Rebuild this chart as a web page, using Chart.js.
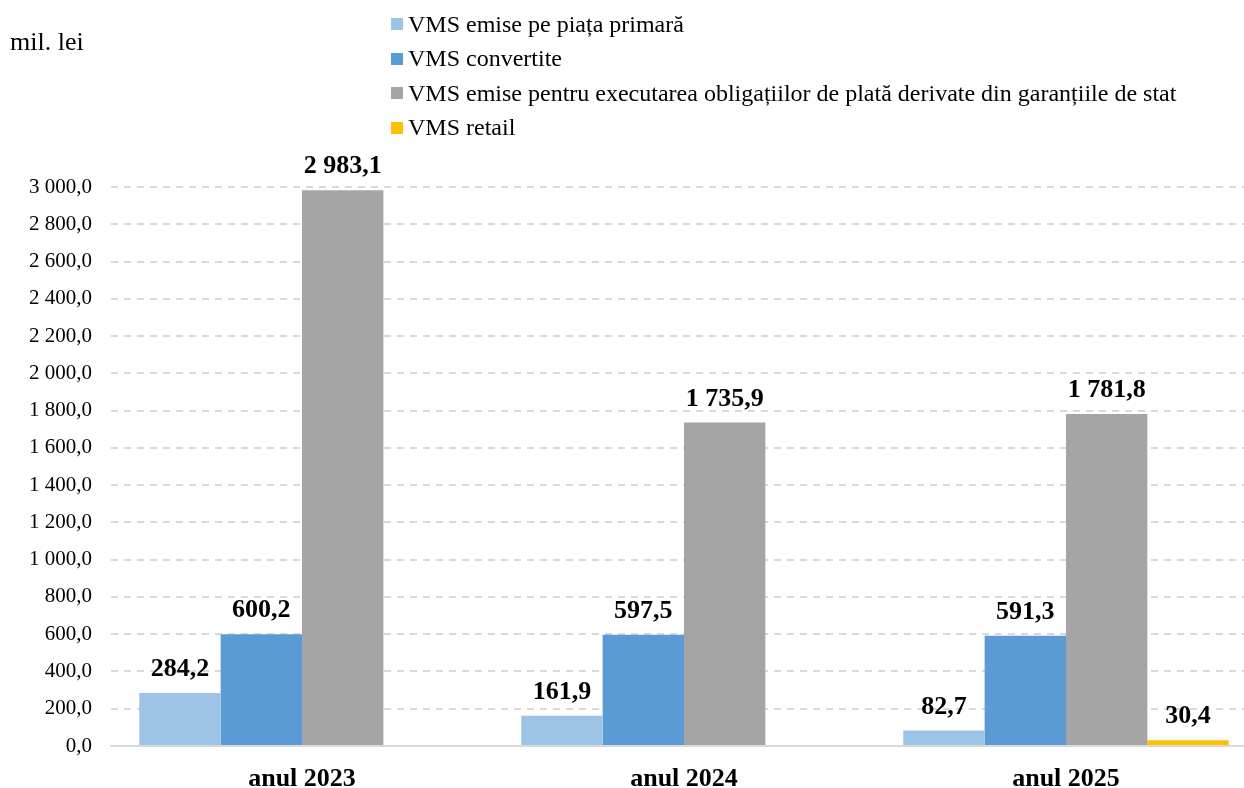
<!DOCTYPE html>
<html>
<head>
<meta charset="utf-8">
<script src="https://cdn.jsdelivr.net/npm/chart.js@4.4.1/dist/chart.umd.min.js"></script>
<style>
  html, body { margin:0; padding:0; width:1244px; height:788px; overflow:hidden; background:#fff; }
  #wrap { position:absolute; left:0; top:0; width:1257px; height:788px; }
  #legend { position:absolute; left:391px; top:7px; font-family:"Liberation Serif","Times New Roman",serif; font-size:24px; color:#000; }
  .li { height:34.5px; display:flex; align-items:center; white-space:nowrap; }
  .sw { width:12px; height:12px; margin-right:5px; flex:none; }
</style>
</head>
<body>
<div id="wrap"><canvas id="c" width="1257" height="788"></canvas></div>
<div id="legend"></div>
<script>
const categories = ["anul 2023", "anul 2024", "anul 2025"];
const seriesNames = [
  "VMS emise pe piața primară",
  "VMS convertite",
  "VMS emise pentru executarea obligațiilor de plată derivate din garanțiile de stat",
  "VMS retail"
];
const primara = [284.2, 161.9, 82.7];
const convertite = [600.2, 597.5, 591.3];
const garantii = [2983.1, 1735.9, 1781.8];
const retail = [null, null, 30.4];
const yTicks = [0, 200, 400, 600, 800, 1000, 1200, 1400, 1600, 1800, 2000, 2200, 2400, 2600, 2800, 3000];
const colors = ["#9DC3E6", "#5B9BD5", "#A5A5A5", "#FFC000"];
const unitLabel = "mil. lei";

function fmt(v) {
  const s = v.toFixed(1).split(".");
  const intPart = s[0].replace(/\B(?=(\d{3})+(?!\d))/g, " ");
  return intPart + "," + s[1];
}

const serif = '"Liberation Serif", "Times New Roman", serif';

const labelPlugin = {
  id: 'valueLabels',
  afterDatasetsDraw(chart) {
    const ctx = chart.ctx;
    ctx.save();
    ctx.font = 'bold 26px ' + serif;
    ctx.fillStyle = '#000';
    ctx.textAlign = 'center';
    ctx.textBaseline = 'alphabetic';
    chart.data.datasets.forEach((ds, di) => {
      const meta = chart.getDatasetMeta(di);
      meta.data.forEach((el, i) => {
        const v = ds.data[i];
        if (v === null || v === undefined) return;
        ctx.fillText(fmt(v), el.x, el.y - 17);
      });
    });
    ctx.font = '26px ' + serif;
    ctx.textAlign = 'left';
    ctx.fillText(unitLabel, 10, 50);
    ctx.restore();
  }
};

const dataSeries = [primara, convertite, garantii, retail];
const chart = new Chart(document.getElementById('c'), {
  type: 'bar',
  data: {
    labels: categories,
    datasets: dataSeries.map((d, i) => ({
      label: seriesNames[i],
      data: d,
      backgroundColor: colors[i],
      borderWidth: 0,
      categoryPercentage: 0.852,
      barPercentage: 1.0
    }))
  },
  options: {
    responsive: false,
    animation: false,
    devicePixelRatio: 1,
    layout: { padding: { top: 187, left: 0, right: 0, bottom: 0 } },
    plugins: { legend: { display: false }, tooltip: { enabled: false } },
    scales: {
      x: {
        grid: { display: false, drawTicks: false },
        border: { display: true, color: '#d9d9d9', width: 2 },
        ticks: { color: '#000', font: { family: serif, size: 26, weight: 'bold' }, padding: 18 },
        afterFit(s) { s.height = 42; }
      },
      y: {
        min: 0, max: 3000,
        afterBuildTicks(s) { s.ticks = yTicks.map(v => ({ value: v })); },
        grid: { color: '#d9d9d9', lineWidth: 2, drawTicks: false },
        border: { display: false, dash: [7, 6] },
        ticks: { color: '#000', font: { family: serif, size: 21 }, padding: 19, callback: v => fmt(v) },
        afterFit(s) { s.width = 111; }
      }
    }
  },
  plugins: [labelPlugin]
});

const leg = document.getElementById('legend');
chart.data.datasets.forEach(ds => {
  const row = document.createElement('div');
  row.className = 'li';
  const sw = document.createElement('span');
  sw.className = 'sw';
  sw.style.background = ds.backgroundColor;
  const t = document.createElement('span');
  t.textContent = ds.label;
  row.appendChild(sw); row.appendChild(t);
  leg.appendChild(row);
});
</script>
</body>
</html>
